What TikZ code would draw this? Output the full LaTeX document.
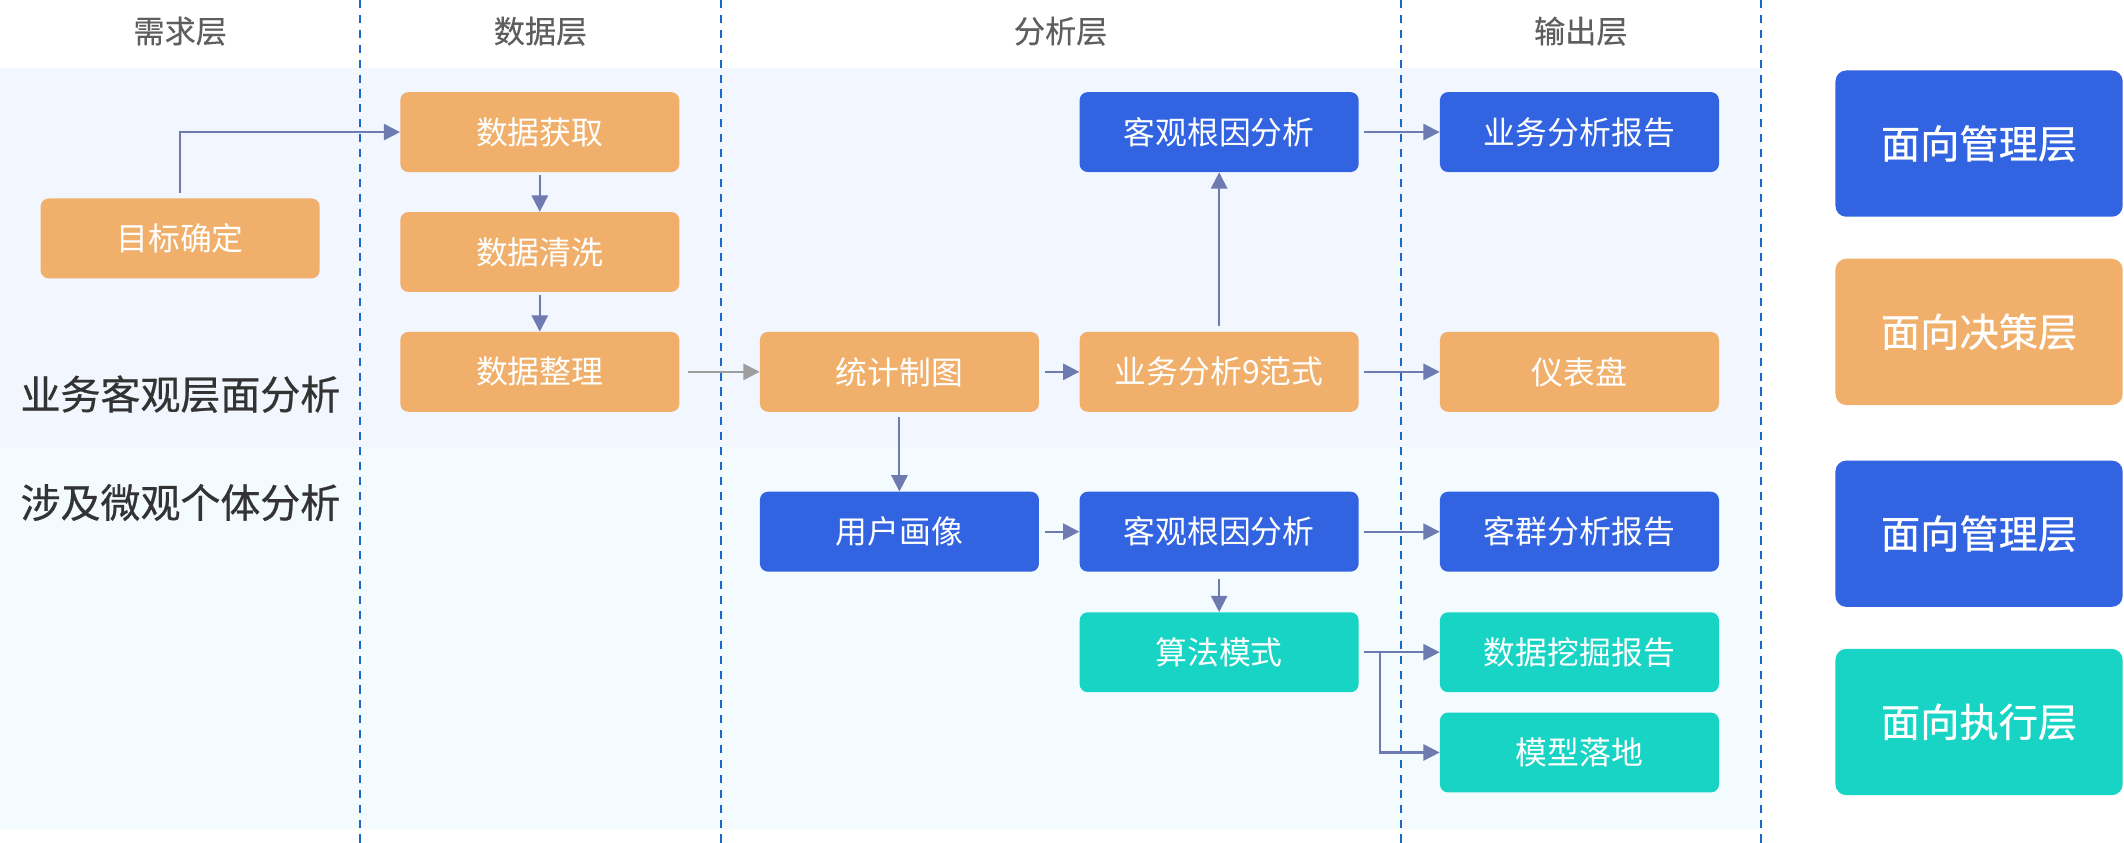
\documentclass[tikz,border=0pt]{standalone}
\usepackage{fontspec}
\setmainfont{Noto Sans CJK SC}
\newfontfamily\cjkm[FakeBold=0.6]{Noto Sans CJK SC}
\newfontfamily\cjkh[FakeBold=0.3]{Noto Sans CJK SC}
\usetikzlibrary{arrows.meta}
\definecolor{org}{HTML}{F0B06B}
\definecolor{blu}{HTML}{3263E0}
\definecolor{tea}{HTML}{17D4C4}
\definecolor{bandA}{HTML}{F2F6FE}
\definecolor{bandB}{HTML}{F3FBFF}
\definecolor{dashc}{HTML}{1A68C8}
\definecolor{arrc}{HTML}{6E7BB0}
\definecolor{grayarr}{HTML}{9E9E9E}
\definecolor{headc}{HTML}{5E5E5E}
\definecolor{labc}{HTML}{333333}
\tikzset{
  flowbox/.style={rounded corners=6pt, minimum width=206pt, minimum height=59pt, inner sep=0pt, text=white, font=\fontsize{23.5}{23.5}\selectfont},
  obox/.style={flowbox, fill=org},
  bbox/.style={flowbox, fill=blu},
  tbox/.style={flowbox, fill=tea},
  sidebox/.style={rounded corners=8pt, minimum width=212pt, minimum height=108pt, inner sep=0pt, text=white, font=\fontsize{29}{29}\selectfont\cjkm},
  headtxt/.style={text=headc, font=\fontsize{23}{23}\selectfont\cjkh},
  rowlab/.style={text=labc, anchor=west, inner sep=0pt, font=\fontsize{29.5}{29.5}\selectfont\cjkm},
  dl/.style={dashc, line width=1.4pt, dash pattern=on 6pt off 5pt},
  arr/.style={arrc, line width=1.5pt, -{Triangle[length=12pt,width=12pt]}},
  garr/.style={grayarr, line width=1.5pt, -{Triangle[length=12pt,width=12pt]}},
}
\begin{document}
\begin{tikzpicture}[x=1pt,y=-1pt]
\useasboundingbox (0,0) rectangle (1568,622);
\fill[white] (0,0) rectangle (1568,622);
\fill[bandA] (0,50) rectangle (1300,330);
\fill[bandB] (0,330) rectangle (1300,612);
\foreach \x in {266,532,1034,1300} \draw[dl] (\x,0) -- (\x,622);

\node[headtxt] (h1) at (133,23) {需求层};
\node[headtxt] (h2) at (399,23) {数据层};
\node[headtxt] (h3) at (783,23) {分析层};
\node[headtxt] (h4) at (1167,23) {输出层};

\node[rowlab] (l1) at (15,291) {业务客观层面分析};
\node[rowlab] (l2) at (15,371) {涉及微观个体分析};

\node[obox] (goal) at (133,176) {目标确定};
\node[obox] (get) at (398.5,97.5) {数据获取};
\node[obox] (clean) at (398.5,186) {数据清洗};
\node[obox] (tidy) at (398.5,274.5) {数据整理};
\node[obox] (stat) at (664,274.5) {统计制图};
\node[obox] (nine) at (900,274.5) {业务分析9范式};
\node[bbox] (root1) at (900,97.5) {客观根因分析};
\node[bbox] (rep1) at (1166,97.5) {业务分析报告};
\node[obox] (dash) at (1166,274.5) {仪表盘};
\node[bbox] (user) at (664,392.5) {用户画像};
\node[bbox] (root2) at (900,392.5) {客观根因分析};
\node[bbox] (rep2) at (1166,392.5) {客群分析报告};
\node[tbox] (algo) at (900,481.5) {算法模式};
\node[tbox] (dm) at (1166,481.5) {数据挖掘报告};
\node[tbox] (model) at (1166,555.5) {模型落地};

\node[sidebox, fill=blu] (s1) at (1461,106) {面向管理层};
\node[sidebox, fill=org] (s2) at (1461,245) {面向决策层};
\node[sidebox, fill=blu] (s3) at (1461,394) {面向管理层};
\node[sidebox, fill=tea] (s4) at (1461,533) {面向执行层};

\draw[arr] ([yshift=4pt]goal.north) |- (get.west);
\draw[arr] ([yshift=-2pt]get.south) -- (clean.north);
\draw[arr] ([yshift=-2pt]clean.south) -- (tidy.north);
\draw[garr] ([xshift=6pt]tidy.east) -- (stat.west);
\draw[arr] ([xshift=4pt]stat.east) -- (nine.west);
\draw[arr] ([yshift=4pt]nine.north) -- (root1.south);
\draw[arr] ([xshift=4pt]root1.east) -- (rep1.west);
\draw[arr] ([xshift=4pt]nine.east) -- (dash.west);
\draw[arr] ([yshift=-4pt]stat.south) -- (user.north);
\draw[arr] ([xshift=4pt]user.east) -- (root2.west);
\draw[arr] ([xshift=4pt]root2.east) -- (rep2.west);
\draw[arr] ([yshift=-5pt]root2.south) -- (algo.north);
\draw[arr] ([xshift=4pt]algo.east) -- (dm.west);
\coordinate (br) at (1019,481.5);
\draw[arr] (br) |- (model.west);
\end{tikzpicture}
\end{document}
